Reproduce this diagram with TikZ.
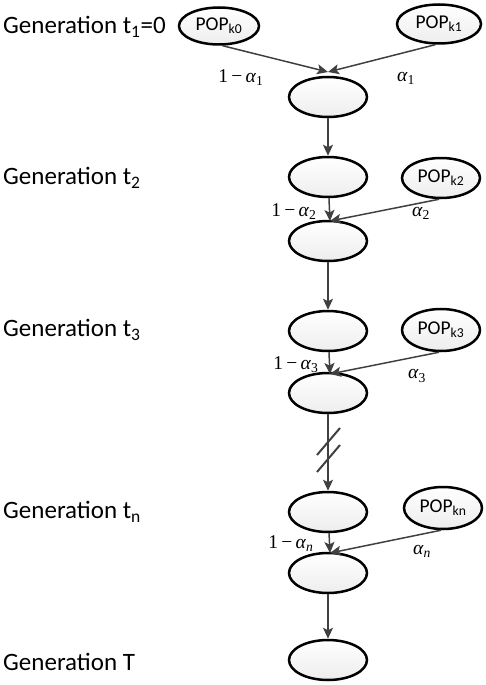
\documentclass[tikz,border=0pt]{standalone}
\usepackage{fontspec}
\setmainfont{Carlito}
\newfontfamily\tms{Liberation Serif}
\usetikzlibrary{arrows.meta,shapes.geometric}
\definecolor{linegray}{HTML}{404040}
\tikzset{
  cell/.style={ellipse,draw=black,line width=2.5pt,top color=white,bottom color=black!7,
    minimum width=78pt,minimum height=40pt,inner sep=0pt},
  pop/.style={cell,font=\fontsize{19.5}{22}\selectfont},
  genlabel/.style={anchor=west,font=\fontsize{25}{28}\selectfont,inner sep=0pt},
  wlabel/.style={font=\tms\fontsize{19.5}{22}\selectfont,inner sep=0pt},
  conn/.style={draw=linegray,line width=1.5pt,-{Stealth[length=11pt,width=10pt,inset=2.5pt]}},
  hash/.style={draw=linegray,line width=2pt}
}
\newcommand{\wa}[1]{\textit{α}\textsubscript{#1}}
\begin{document}
\begin{tikzpicture}[x=1pt,y=-1pt]
\useasboundingbox (0,0) rectangle (486,685);
% generation labels
\node[genlabel] (g1) at (3,27) {Generation t\textsubscript{1}=0};
\node[genlabel] (g2) at (3,178) {Generation t\textsubscript{2}};
\node[genlabel] (g3) at (3,330) {Generation t\textsubscript{3}};
\node[genlabel] (gn) at (3,512) {Generation t\textsubscript{n}};
\node[genlabel] (gT) at (3,662) {Generation T};
% population nodes
\node[pop,minimum width=80pt,minimum height=37pt] (P0) at (219,26) {POP\textsubscript{k0}};
\node[pop,minimum width=84pt,minimum height=39pt] (P1) at (439,24) {POP\textsubscript{k1}};
\node[pop] (P2) at (441,178) {POP\textsubscript{k2}};
\node[pop,minimum height=42pt] (P3) at (441,330) {POP\textsubscript{k3}};
\node[pop,minimum height=42pt] (Pn) at (443,508) {POP\textsubscript{kn}};
% column nodes
\node[cell] (M1) at (328,97) {};
\node[cell] (E2) at (328,177) {};
\node[cell] (M2) at (328,241) {};
\node[cell] (E3) at (328,331) {};
\node[cell] (M3) at (328,393) {};
\node[cell] (En) at (328,512) {};
\node[cell] (Mn) at (328,573) {};
\node[cell] (ET) at (328,660) {};
% junction points
\coordinate (j1) at (328,72);
\coordinate (j2) at (330,221);
\coordinate (j3) at (330,374);
\coordinate (jn) at (330,553);
% connectors
\draw[conn] (P0.-80) -- (j1);
\draw[conn] (P1.-100) -- (j1);
\draw[conn] (M1) -- (E2);
\draw[conn] (E2) -- (j2);
\draw[conn] (P2.-95) -- (j2);
\draw[conn] (M2) -- (E3);
\draw[conn] (E3) -- (j3);
\draw[conn] (P3.-95) -- (j3);
\draw[conn] (M3) -- (En);
\draw[conn] (En) -- (jn);
\draw[conn] (Pn.-95) -- (jn);
\draw[conn] (Mn) -- (ET);
% break marks
\coordinate (h1a) at (317,455); \coordinate (h1b) at (340,428);
\coordinate (h2a) at (317,472); \coordinate (h2b) at (340,445);
\draw[hash] (h1a) -- (h1b);
\draw[hash] (h2a) -- (h2b);
% weight labels
\node[wlabel] (w1a) at (241,78) {1\,−\,\wa{1}};
\node[wlabel] (w1b) at (406,78) {\wa{1}};
\node[wlabel] (w2a) at (294,212) {1\,−\,\wa{2}};
\node[wlabel] (w2b) at (421,213) {\wa{2}};
\node[wlabel] (w3a) at (296,365) {1\,−\,\wa{3}};
\node[wlabel] (w3b) at (417,376) {\wa{3}};
\node[wlabel] (wna) at (291,544) {1\,−\,\textit{α}\textsubscript{\textit{n}}};
\node[wlabel] (wnb) at (422,551) {\textit{α}\textsubscript{\textit{n}}};
\end{tikzpicture}
\end{document}
